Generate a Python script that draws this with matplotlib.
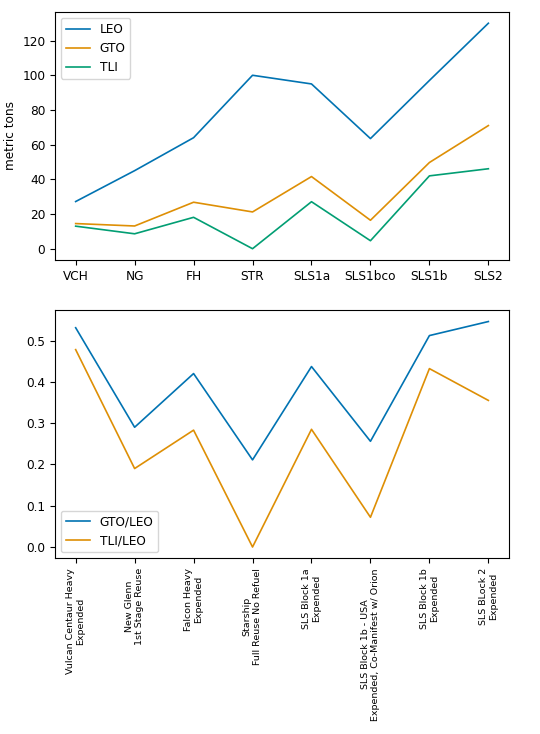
import matplotlib
matplotlib.use("Agg")
import matplotlib.pyplot as plt

short_labels = ["VCH", "NG", "FH", "STR", "SLS1a", "SLS1bco", "SLS1b", "SLS2"]
long_labels = [
    "Vulcan Centaur Heavy\nExpended",
    "New Glenn\n1st Stage Reuse",
    "Falcon Heavy\nExpended",
    "Starship\nFull Reuse No Refuel",
    "SLS Block 1a\nExpended",
    "SLS Block 1b - USA\nExpended, Co-Manifest w/ Orion",
    "SLS Block 1b\nExpended",
    "SLS BLock 2\nExpended",
]
leo = [27.2, 45, 64, 100, 95, 63.5, 97, 130]
gto = [14.5, 13.1, 26.8, 21.2, 41.6, 16.4, 49.7, 71]
tli = [13.0, 8.6, 18.1, 0, 27.1, 4.6, 42.0, 46.1]
gto_leo = [0.531, 0.290, 0.420, 0.211, 0.437, 0.256, 0.512, 0.546]
tli_leo = [0.478, 0.190, 0.283, 0.0, 0.285, 0.072, 0.432, 0.355]

c_blue = "#0173b2"
c_orange = "#de8f05"
c_green = "#029e73"

plt.rcParams["font.size"] = 8.7

fig = plt.figure(figsize=(5.4, 7.34), dpi=100)
ax1 = fig.add_axes([0.1019, 0.6458, 0.8407, 0.3379])
ax2 = fig.add_axes([0.1019, 0.2394, 0.8407, 0.3379])

x = list(range(len(short_labels)))
lw = 1.2
ax1.plot(x, leo, color=c_blue, lw=lw, label="LEO")
ax1.plot(x, gto, color=c_orange, lw=lw, label="GTO")
ax1.plot(x, tli, color=c_green, lw=lw, label="TLI")
ax1.set_xticks(x)
ax1.set_xticklabels(short_labels)
ax1.set_ylabel("metric tons")
ax1.legend(loc="upper left")

ax2.plot(x, gto_leo, color=c_blue, lw=lw, label="GTO/LEO")
ax2.plot(x, tli_leo, color=c_orange, lw=lw, label="TLI/LEO")
ax2.set_xticks(x)
ax2.set_xticklabels(long_labels, rotation=90, fontsize=6.8, multialignment="center")
ax2.legend(loc="lower left")

fig.savefig("out.png", dpi=100)
